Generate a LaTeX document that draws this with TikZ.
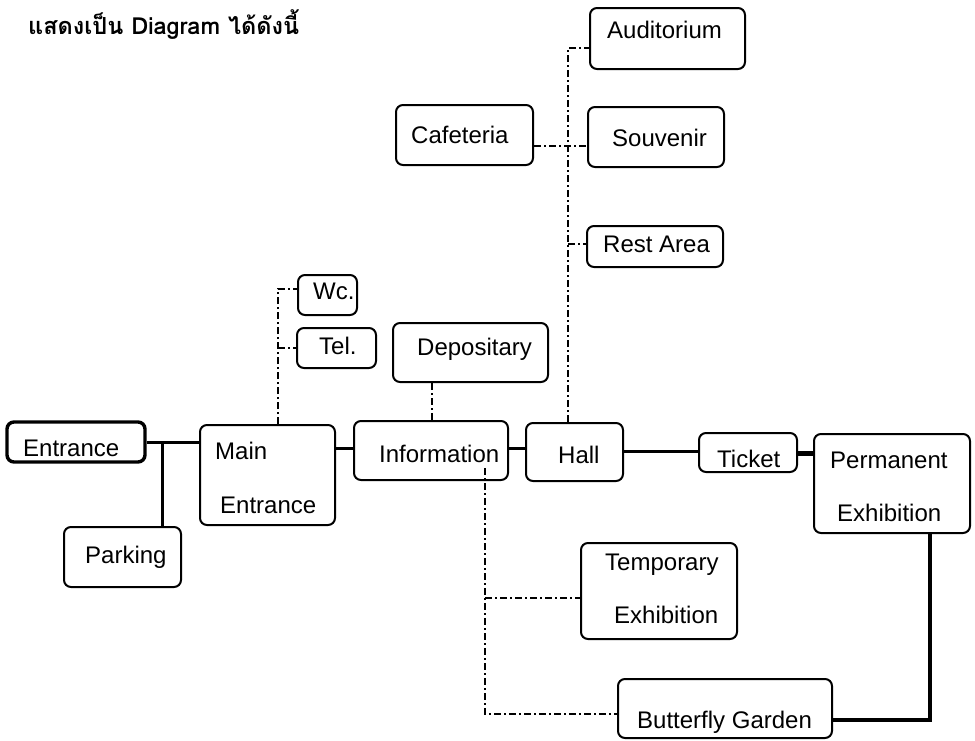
\documentclass[tikz,border=0pt]{standalone}
\usepackage{fontspec}
\setmainfont{Liberation Sans}
\newfontfamily\thaifont[Script=Thai]{Loma}
\begin{document}
\begin{tikzpicture}[x=1pt,y=-1pt,
  box/.style={draw, line width=2pt, rounded corners=7pt, inner sep=0pt},
  lbl/.style={anchor=base west, inner sep=0pt, font=\fontsize{24}{28}\selectfont},
  solidlink/.style={line width=3pt},
  dlink/.style={line width=2pt, dash pattern=on 7pt off 3pt on 2pt off 3pt}]
\useasboundingbox[fill=white] (0,0) rectangle (975,740);

% title
\node[anchor=base west, inner sep=0pt, font=\thaifont\bfseries\fontsize{23.5}{27}\selectfont] (title) at (28,34) {แสดงเป็น Diagram ได้ดังนี้};

% boxes
\node[box, line width=3.4pt, minimum width=138pt, minimum height=40pt] (ent) at (76,442) {};
\node[box, minimum width=135pt, minimum height=100pt] (main) at (267.5,475) {};
\node[box, minimum width=117pt, minimum height=60pt] (park) at (122.5,557) {};
\node[box, minimum width=59pt, minimum height=40pt] (wc) at (327.5,295) {};
\node[box, minimum width=79pt, minimum height=40pt] (tel) at (336.5,348) {};
\node[box, minimum width=155pt, minimum height=59pt] (dep) at (470.5,352.5) {};
\node[box, minimum width=154pt, minimum height=59pt] (info) at (431,450.5) {};
\node[box, minimum width=97pt, minimum height=58pt] (hall) at (574.5,452) {};
\node[box, minimum width=98pt, minimum height=39pt] (ticket) at (748,452.5) {};
\node[box, minimum width=156pt, minimum height=99pt] (perm) at (892,483.5) {};
\node[box, minimum width=156pt, minimum height=96pt] (temp) at (659,591) {};
\node[box, minimum width=214pt, minimum height=59pt] (bfly) at (725,708.5) {};
\node[box, minimum width=155pt, minimum height=61pt] (aud) at (667.5,38.5) {};
\node[box, minimum width=136pt, minimum height=60pt] (souv) at (656,137) {};
\node[box, minimum width=137pt, minimum height=60pt] (caf) at (464.5,135) {};
\node[box, minimum width=136pt, minimum height=41pt] (rest) at (655,246.5) {};

% labels
\node[lbl] (tent) at (23,456) {Entrance};
\node[lbl] (tmain1) at (215,459) {Main};
\node[lbl] (tmain2) at (220,513) {Entrance};
\node[lbl] (tpark) at (85,563) {Parking};
\node[lbl] (twc) at (313,299) {Wc.};
\node[lbl] (ttel) at (319,354) {Tel.};
\node[lbl] (tdep) at (417,355) {Depositary};
\node[lbl] (tinfo) at (379,462) {Information};
\node[lbl] (thall) at (558,463) {Hall};
\node[lbl] (tticket) at (717,467) {Ticket};
\node[lbl] (tperm1) at (830,468) {Permanent};
\node[lbl] (tperm2) at (837,521) {Exhibition};
\node[lbl] (ttemp1) at (605,570) {Temporary};
\node[lbl] (ttemp2) at (614,623) {Exhibition};
\node[lbl] (tbfly) at (637,728) {Butterfly Garden};
\node[lbl] (taud) at (607,38) {Auditorium};
\node[lbl] (tsouv) at (612,146) {Souvenir};
\node[lbl] (tcaf) at (411,143) {Cafeteria};
\node[lbl] (trest) at (603,252) {Rest Area};

% solid connectors
\coordinate (pj) at (162,442);
\draw[solidlink] (ent.east) -- (ent.east -| main.west);
\draw[solidlink] (pj) -- (pj |- park.north);
\draw[solidlink] (main.east |- 0,448) -- (info.west |- 0,448);
\draw[solidlink] (info.east |- 0,448) -- (hall.west |- 0,448);
\draw[solidlink] (hall.east |- 0,451) -- (ticket.west |- 0,451);
\draw[line width=5pt] (ticket.east |- 0,453) -- (perm.west |- 0,453);
\coordinate (pb) at (930,720);
\draw[line width=3.4pt] (perm.south -| pb) -- (pb) -- (bfly.east |- pb);

% dash-dot connectors
\coordinate (mw) at (278,289);
\draw[dlink] (main.north -| mw) -- (mw) -- (wc.west |- mw);
\coordinate (mt) at (278,348);
\draw[dlink] (mt) -- (tel.west |- mt);
\coordinate (dx) at (432,0);
\draw[dlink] (dep.south -| dx) -- (info.north -| dx);
\coordinate (ha) at (568,48);
\draw[dlink] (hall.north -| ha) -- (ha) -- (aud.west |- ha);
\coordinate (cs) at (0,146);
\draw[dlink] (caf.east |- cs) -- (souv.west |- cs);
\coordinate (hr) at (568,244);
\draw[dlink] (hr) -- (rest.west |- hr);
\coordinate (is) at (485,468);
\coordinate (ib) at (485,714);
\coordinate (it) at (485,598);
\draw[dlink] (is) -- (ib) -- (bfly.west |- ib);
\draw[dlink] (it) -- (temp.west |- it);
\end{tikzpicture}
\end{document}
